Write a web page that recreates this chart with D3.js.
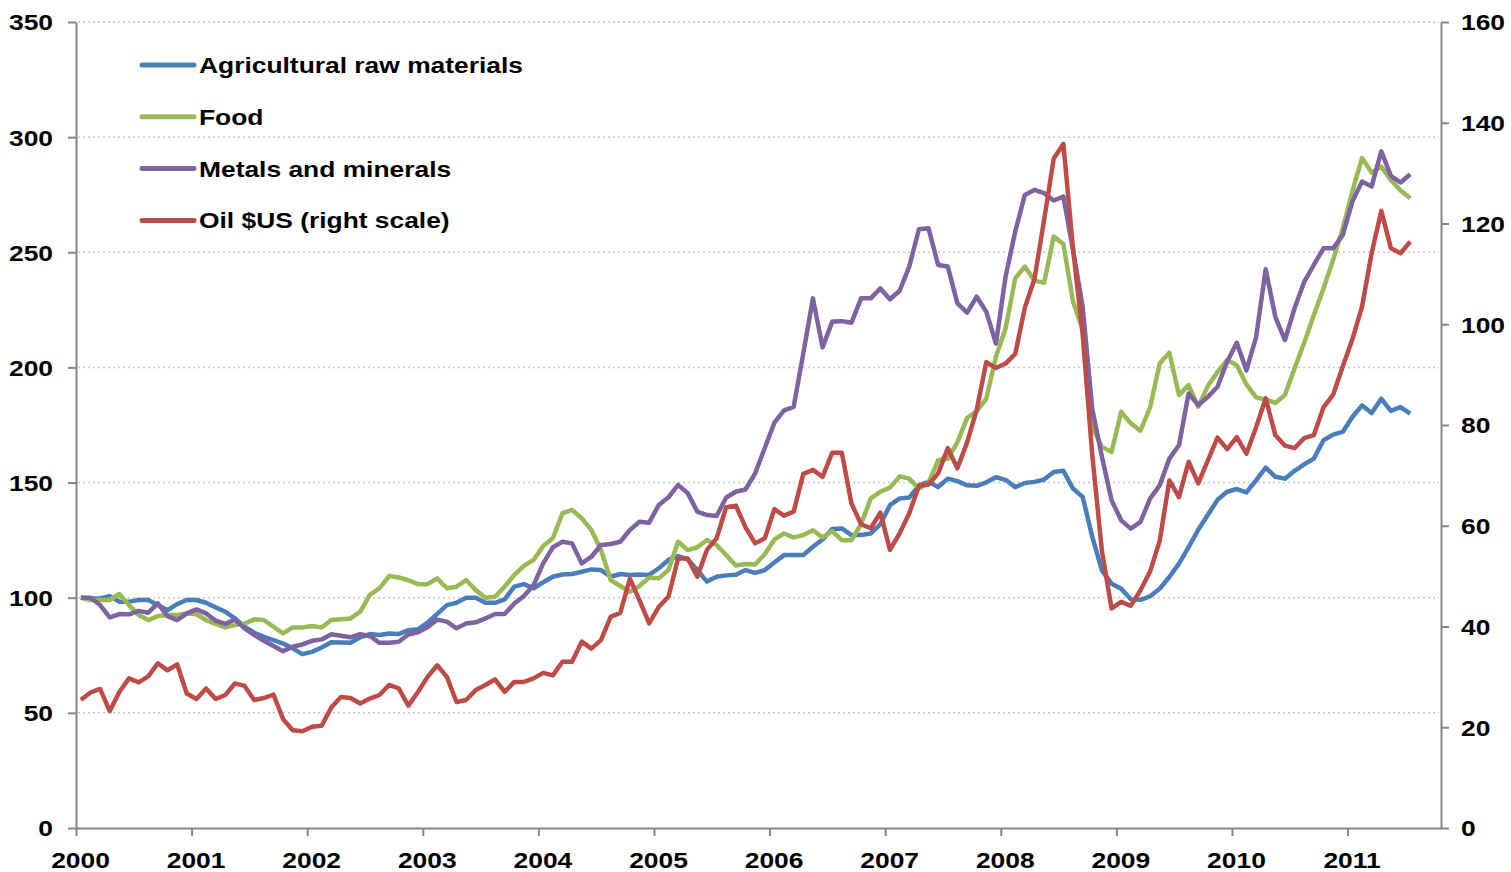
<!DOCTYPE html>
<html>
<head>
<meta charset="utf-8">
<script src="https://cdn.jsdelivr.net/npm/d3@7"></script>
<style>
  body { margin: 0; background: #fff; }
  text { font-family: "Liberation Sans", Arial, sans-serif; font-weight: bold; font-size: 22px; fill: #000; }
</style>
</head>
<body>
<svg id="chart" width="1511" height="872"></svg>
<script>
// monthly index, Jan 2000 = 0 ... Jul 2011 = 138
const yearLabels = ['2000','2001','2002','2003','2004','2005','2006','2007','2008','2009','2010','2011'];
const leftTicks = [0, 50, 100, 150, 200, 250, 300, 350];
const rightTicks = [0, 20, 40, 60, 80, 100, 120, 140, 160];

const agri = [100,99.7,99.7,100.7,98.3,98.3,99,99,96.8,94.6,97.2,99,99,97.8,95.8,93.9,91,87.4,84.8,83,
  81.6,80.1,78,75.5,76.5,78.4,80.7,80.6,80.4,82.8,84.2,83.8,84.5,84.2,85.9,86.3,89.2,93,96.8,97.8,
  100,100,97.8,97.8,99.3,104.8,105.9,104.1,106.7,109.1,110.1,110.3,111.3,112.3,112,109.1,110.3,109.9,110.1,109.9,
  112.8,116.4,118.1,116.7,112,107,109.1,109.7,110,112,110.8,112,115.3,118.5,118.5,118.5,122.1,125.3,129.8,130.1,
  127.2,127.2,127.9,131.9,140.2,143.1,143.5,148.8,150.3,148.1,151.7,150.6,148.8,148.6,150.1,152.3,151.2,148,149.8,150.3,
  151.3,154.6,155.1,147.4,143.8,126.4,111.9,106.1,103.9,99.3,99.1,100.6,103.9,109,114.8,122,129.5,136,142.5,146,
  147.2,145.7,151,156.5,152.5,151.7,155.1,157.9,160.4,168.4,170.8,172,178.5,183.5,180.2,186.4,181.1,182.8,179.9];

const food = [100,99,99,99,101.6,96.8,92.5,90.3,92,92.5,92.5,93.2,92.8,90.3,88.6,87.1,88.1,88.8,90.6,90.3,
  87.4,84.5,87.1,87.1,87.7,87.1,90.3,90.6,91,93.9,101.2,104.1,109.4,108.8,107.6,105.9,105.9,108.4,104.1,104.8,
  107.7,103.3,100,100.4,104.8,109.9,113.8,116.4,122.5,125.8,136.7,138.1,134.5,129.4,120.7,107.7,105.1,102.6,105.1,108.8,
  108.4,112,124.3,120.7,121.9,125.1,122.9,118.5,114,114.6,114.4,118.9,125.3,127.9,126.2,127.2,129.3,126.2,128.9,125,
  125,131.9,143.1,146,147.8,152.7,151.7,147.4,149.9,159.7,160.3,167.6,178,181,186.5,204.6,217,238.7,243.8,237.7,
  236.8,256.8,253.6,228.6,216.5,174,165.5,163.3,180.7,175.7,172.5,182.6,201.7,206.4,188,192.3,182.9,192,198,203.2,
  201,192.6,187,186.1,184.6,188,199.6,210.7,222.8,234.3,246.7,260.4,276.4,290.9,284.6,287.2,281.4,276.8,273.5];

const metals = [100,100,96.8,91.5,92.9,92.8,94.3,93.5,97.5,92,90.3,93.2,94.9,93.2,90,88.6,90.6,86.7,83.8,81.3,
  79,76.8,78.7,79.7,81.3,81.9,84.1,83.5,82.8,84.2,83.4,80.4,80.4,80.9,84,85,87.2,90.5,89.6,86.7,
  88.8,89.3,91,92.9,92.9,97.5,100.7,105.5,114.9,121.9,124.3,123.6,114.9,117.8,122.9,123.3,124.3,129.4,133,132.6,
  140.3,143.6,149,145.4,137.4,135.9,135.5,143.5,146,147,154,165,176,181.4,182.9,206.1,230,208.7,219.9,220.1,
  219.4,230,230,234.3,229.6,233.3,243.8,260,260.4,244.5,243.8,227.8,223.8,230.7,224.2,210.4,239.4,259,274.9,277.1,
  275.7,272.5,274.2,251,226.4,182,161.2,142.3,133.6,130,132.9,143,148.8,160.4,166.2,188.7,183.6,187.2,191.6,202.5,
  210.7,198.7,213,242.6,222,211.9,225.7,237.2,244.5,251.7,251.7,257.5,272,280.7,278.6,293.8,283.2,280.3,283.9];

const oil = [25.4,26.9,27.6,23.2,27,29.7,28.9,30.1,32.7,31.3,32.5,26.7,25.6,27.7,25.6,26.4,28.7,28.2,25.4,25.8,
  26.5,21.6,19.4,19.2,20.1,20.3,23.9,26,25.8,24.7,25.7,26.4,28.4,27.7,24.3,27,30,32.3,30,25,
  25.4,27.4,28.4,29.5,27,29,29,29.7,30.8,30.3,33,33,37,35.6,37.3,41.9,42.7,49.5,45.2,40.6,
  43.9,45.9,53.5,53.5,49.9,55.2,57.5,63.7,64,59.7,56.5,57.5,63.3,62,62.8,70.3,71.1,69.7,74.5,74.5,
  64.4,60.3,59.5,62.6,55.2,58.5,62.5,67.9,68.2,70.4,75.4,71.4,76.5,83,92.5,91.3,92.2,94.1,103.3,109,
  120.7,132.9,135.8,115,98,74,55,43.6,44.9,44.1,47.2,50.9,57,69,65.7,72.7,68.4,73,77.5,75.2,
  77.6,74.3,79.5,85.3,78,75.9,75.4,77.4,78,83.5,86,91.6,97,103.5,114.1,122.5,115.1,114.1,116.4];

const seriesNames = ['Agricultural raw materials', 'Food', 'Metals and minerals', 'Oil $US (right scale)'];
const seriesColors = ['#4A7EBB', '#98B954', '#7E62A1', '#BE4B48'];

const svg = d3.select('#chart');
const plotLeft = 76, plotRight = 1441, plotTop = 22, plotBottom = 828;
const sx = 1.2; // horizontal stretch of the original lettering

let x = d3.scaleLinear().domain([-0.5, 141.2]).range([plotLeft, plotRight]);
let yL = d3.scaleLinear().domain([0, 350]).range([plotBottom, plotTop]);
let yR = d3.scaleLinear().domain([0, 160]).range([plotBottom, plotTop]);

// dotted gridlines
svg.append('g').attr('class', 'grid')
  .selectAll('line')
  .data(leftTicks.filter((d) => d > 0))
  .enter().append('line')
  .attr('x1', plotLeft + 2).attr('x2', plotRight - 2)
  .attr('y1', (d) => yL(d)).attr('y2', (d) => yL(d))
  .attr('stroke', '#c8c8c8')
  .attr('stroke-width', 1.5)
  .attr('stroke-dasharray', '2,3');

// axes
let yearTicks = yearLabels.map((d, i) => i * 12 - 0.5);

let gx = svg.append('g')
  .attr('transform', `translate(0,${plotBottom})`)
  .call(d3.axisBottom(x).tickValues(yearTicks).tickFormat((d, i) => yearLabels[i]).tickSize(8).tickSizeOuter(0));
gx.selectAll('text')
  .attr('x', 4 / sx).attr('y', 24)
  .attr('transform', `scale(${sx},1)`);

let gl = svg.append('g')
  .attr('transform', `translate(${plotLeft},0)`)
  .call(d3.axisLeft(yL).tickValues(leftTicks).tickSize(8).tickSizeOuter(0));
gl.selectAll('text')
  .attr('x', -23 / sx).attr('dy', '0.36em')
  .attr('transform', `scale(${sx},1)`);

let gr = svg.append('g')
  .attr('transform', `translate(${plotRight},0)`)
  .call(d3.axisRight(yR).tickValues(rightTicks).tickSize(8).tickSizeOuter(0));
gr.selectAll('text')
  .attr('x', 20 / sx).attr('dy', '0.36em')
  .attr('transform', `scale(${sx},1)`);

svg.selectAll('.domain, .tick line')
  .attr('stroke', '#868686')
  .attr('stroke-width', 2);
svg.selectAll('.tick text')
  .attr('fill', '#000')
  .style('font-size', '22px')
  .style('font-weight', 'bold')
  .style('font-family', '"Liberation Sans", Arial, sans-serif');

// lines
let lineL = d3.line().x((d, i) => x(i)).y((d) => yL(d));
let lineR = d3.line().x((d, i) => x(i)).y((d) => yR(d));

let lines = svg.append('g').attr('class', 'lines');
[agri, food, metals].forEach((data, k) => {
  lines.append('path')
    .datum(data)
    .attr('fill', 'none')
    .attr('stroke', seriesColors[k])
    .attr('stroke-width', 4.5)
    .attr('stroke-linejoin', 'round')
    .attr('d', lineL);
});
lines.append('path')
  .datum(oil)
  .attr('fill', 'none')
  .attr('stroke', seriesColors[3])
  .attr('stroke-width', 4.5)
  .attr('stroke-linejoin', 'round')
  .attr('d', lineR);

// legend
let legend = svg.append('g').attr('class', 'legend');
let items = legend.selectAll('g')
  .data(seriesNames)
  .enter().append('g')
  .attr('transform', (d, i) => `translate(0,${65 + i * 51.8})`);
items.append('line')
  .attr('x1', 142).attr('x2', 194)
  .attr('stroke', (d, i) => seriesColors[i])
  .attr('stroke-width', 5)
  .attr('stroke-linecap', 'round');
items.append('text')
  .attr('x', 199 / sx).attr('dy', '0.36em')
  .attr('transform', `scale(${sx},1)`)
  .text((d) => d);
</script>
</body>
</html>
